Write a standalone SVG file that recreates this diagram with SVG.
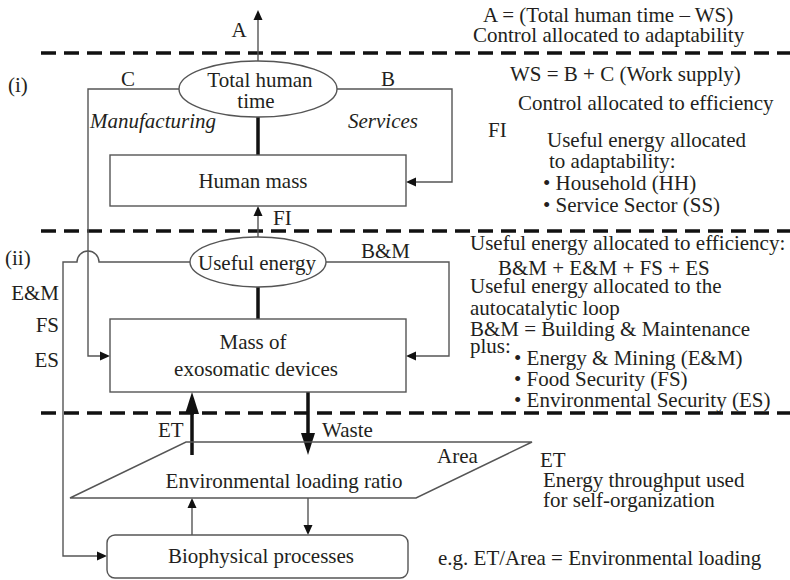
<svg xmlns="http://www.w3.org/2000/svg" width="790" height="580" viewBox="0 0 790 580">
<style>
text{font-family:"Liberation Serif","Times New Roman",serif;font-size:21px;fill:#231f20}
.c{text-anchor:middle}
.e{text-anchor:end}
.i{font-style:italic}
.shape{fill:#fff;stroke:#555;stroke-width:1.4}
.thin{fill:none;stroke:#555;stroke-width:1.4}
.thick{fill:none;stroke:#111;stroke-width:3.5}
.dash{fill:none;stroke:#111;stroke-width:3.5;stroke-dasharray:15 8}
</style>
<defs>
<marker id="ah" markerWidth="11" markerHeight="10" refX="6" refY="5" orient="auto" markerUnits="userSpaceOnUse"><path d="M0,0.5 L10,5 L0,9.5 z" fill="#111"/></marker>
<marker id="ahb" markerWidth="22" markerHeight="14" refX="8" refY="7" orient="auto" markerUnits="userSpaceOnUse"><path d="M0,0 L22,7 L0,14 z" fill="#111"/></marker>
</defs>

<g id="levels">
<line class="dash" x1="41" y1="53" x2="790" y2="53"/>
<line class="dash" x1="41" y1="231" x2="790" y2="231"/>
<line class="dash" x1="41" y1="413" x2="790" y2="413"/>
</g>

<g id="connectors">
<line class="thin" x1="258" y1="61" x2="258" y2="14" marker-end="url(#ah)"/>
<polyline class="thin" points="179,89 88,89 88,356 106,356" marker-end="url(#ah)"/>
<polyline class="thin" points="337,89 452,89 452,182 410,182" marker-end="url(#ah)"/>
<line class="thick" x1="258" y1="117" x2="258" y2="155"/>
<line class="thin" x1="258" y1="237" x2="258" y2="210" marker-end="url(#ah)"/>
<polyline class="thin" points="326,262 449,262 449,356 410,356" marker-end="url(#ah)"/>
<path class="thin" d="M190,262 L99,262 A11,11 0 0 0 77,262 L63,262 L63,556 L103,556" marker-end="url(#ah)"/>
<line class="thick" x1="258" y1="287" x2="258" y2="319"/>
<line class="thick" x1="192" y1="455" x2="192" y2="406" marker-end="url(#ahb)"/>
<line class="thick" x1="308" y1="392" x2="308" y2="441" marker-end="url(#ahb)"/>
<line class="thin" x1="192" y1="535" x2="192" y2="502" marker-end="url(#ah)"/>
<line class="thin" x1="308" y1="498" x2="308" y2="531" marker-end="url(#ah)"/>
</g>

<g id="total-human-time">
<ellipse class="shape" cx="258" cy="89" rx="79" ry="28"/>
<text class="c" x="260" y="87">Total human</text>
<text class="c" x="256" y="108">time</text>
</g>

<g id="human-mass">
<rect class="shape" x="110" y="155" width="296" height="51"/>
<text class="c" x="253" y="188">Human mass</text>
</g>

<g id="useful-energy">
<ellipse class="shape" cx="258" cy="262" rx="68" ry="25"/>
<text class="c" x="257" y="270">Useful energy</text>
</g>

<g id="mass-exosomatic">
<rect class="shape" x="110" y="319" width="296" height="73"/>
<text class="c" x="253" y="349">Mass of</text>
<text class="c" x="256" y="376">exosomatic devices</text>
</g>

<g id="environmental-loading">
<polygon class="shape" points="186,442 532,442 416,498 70,498" style="fill:none"/>
<text class="c" x="284" y="488">Environmental loading ratio</text>
<text x="437" y="463">Area</text>
</g>

<g id="biophysical">
<rect class="shape" x="107" y="535" width="301" height="43" rx="8"/>
<text class="c" x="261" y="563">Biophysical processes</text>
</g>

<g id="labels">
<text class="c" x="239" y="37">A</text>
<text class="c" x="128" y="86">C</text>
<text class="c" x="388" y="86">B</text>
<text class="i c" x="153" y="128">Manufacturing</text>
<text class="i c" x="383" y="128">Services</text>
<text x="273" y="225">FI</text>
<text x="361" y="258">B&amp;M</text>
<text x="8" y="92">(i)</text>
<text x="5" y="265">(ii)</text>
<text class="e" x="59" y="300">E&amp;M</text>
<text class="e" x="59" y="332">FS</text>
<text class="e" x="59" y="367">ES</text>
<text x="158" y="437">ET</text>
<text x="322" y="437">Waste</text>
</g>

<g id="legend">
<text x="483" y="22">A = (Total human time – WS)</text>
<text x="473" y="42">Control allocated to adaptability</text>
<text x="510" y="81">WS = B + C (Work supply)</text>
<text x="518" y="110">Control allocated to efficiency</text>
<text x="488" y="137">FI</text>
<text x="547" y="147">Useful energy allocated</text>
<text x="549" y="168">to adaptability:</text>
<text x="543" y="190">• Household (HH)</text>
<text x="543" y="212">• Service Sector (SS)</text>
<text x="470" y="250">Useful energy allocated to efficiency:</text>
<text x="498" y="275">B&amp;M + E&amp;M + FS + ES</text>
<text x="470" y="293">Useful energy allocated to the</text>
<text x="470" y="315">autocatalytic loop</text>
<text x="470" y="336">B&amp;M = Building &amp; Maintenance</text>
<text x="470" y="353">plus:</text>
<text x="514" y="365">• Energy &amp; Mining (E&amp;M)</text>
<text x="514" y="386">• Food Security (FS)</text>
<text x="514" y="407">• Environmental Security (ES)</text>
<text x="540" y="467">ET</text>
<text x="543" y="487">Energy throughput used</text>
<text x="543" y="507">for self-organization</text>
<text x="438" y="565">e.g. ET/Area = Environmental loading</text>
</g>
</svg>
